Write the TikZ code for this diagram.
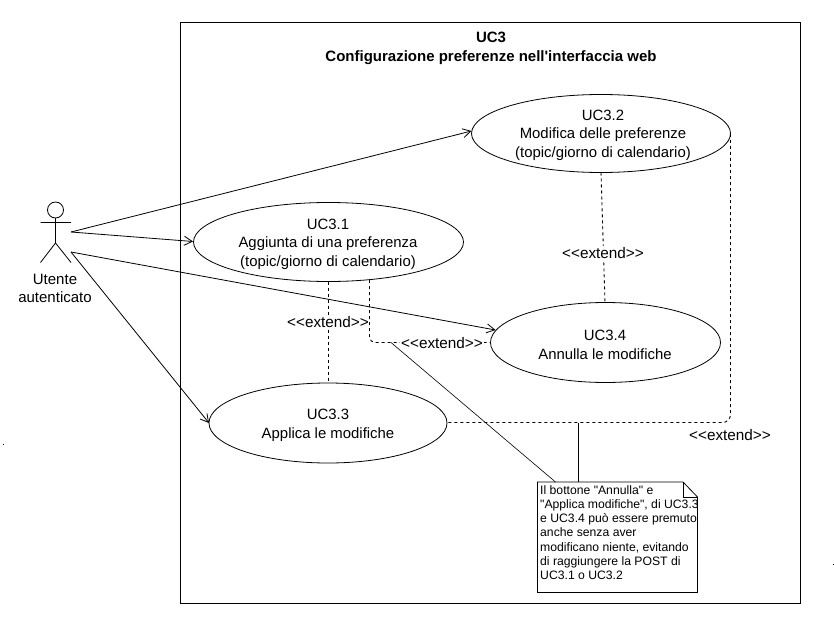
\documentclass[tikz,border=0pt]{standalone}
\usepackage{fontspec}
\setmainfont[Ligatures=TeXOff]{Liberation Sans}
\usetikzlibrary{arrows.meta}
\tikzset{
  uctext/.style={align=center,font=\fontsize{14.9}{18.8}\selectfont,inner sep=0pt},
  lbl/.style={font=\fontsize{15.3}{16}\selectfont,inner sep=1pt,fill=white},
  assoc/.style={draw=black,line width=0.8pt,-{Straight Barb[length=8pt,width=9pt,line width=0.8pt]}},
  ext/.style={draw=black,line width=0.9pt,dash pattern=on 3pt off 3pt},
  plain/.style={draw=black,line width=0.8pt},
}
\begin{document}
\begin{tikzpicture}[x=1pt,y=-1pt]
\useasboundingbox (0,0) rectangle (834,631);
\fill[white] (0,0) rectangle (834,631);
\node[draw=black,line width=0.9pt,minimum width=620pt,minimum height=580pt,inner sep=0pt,anchor=north west] (sys) at (180,22.5) {};
\node[align=center,font=\bfseries\fontsize{15}{19}\selectfont,inner sep=0pt] (title) at (491,48) {UC3\\Configurazione preferenze nell'interfaccia web};
% stray dots
\fill[black] (3,444) rectangle (4.2,445.2);
\fill[black] (833,564) rectangle (834,565.2);
% actor
\node[draw=black,circle,line width=0.8pt,minimum size=16pt,inner sep=0pt] (head) at (55.5,210) {};
\coordinate (neck) at (55.5,218);
\coordinate (hip) at (55.5,243);
\coordinate (armL) at (40.5,222.5);
\coordinate (armR) at (71,222.5);
\coordinate (legL) at (40.5,262.5);
\coordinate (legR) at (71,262.5);
\draw[plain] (neck) -- (hip) (armL) -- (armR) (legL) -- (hip) -- (legR);
\node[align=center,font=\fontsize{15}{18}\selectfont,inner sep=0pt] (actorlbl) at (55,288) {Utente\\autenticato};
\coordinate (a1) at (71,232);
\coordinate (a2) at (71,252);
% use cases
\coordinate (u2) at (601,133.5);
\coordinate (u1) at (328.5,242);
\coordinate (u3) at (328,423);
\coordinate (u4) at (605.5,342.5);
\draw[plain] (u2) ellipse [x radius=129.5,y radius=39];
\draw[plain] (u1) ellipse [x radius=135,y radius=39.5];
\draw[plain] (u3) ellipse [x radius=119,y radius=40];
\draw[plain] (u4) ellipse [x radius=115,y radius=40];
\node[uctext] (t2) at (603,135.2) {UC3.2\\Modifica delle preferenze\\(topic/giorno di calendario)};
\node[uctext] (t1) at (328,244.2) {UC3.1\\Aggiunta di una preferenza\\(topic/giorno di calendario)};
\node[uctext] (t3) at (328,425.5) {UC3.3\\Applica le modifiche};
\node[uctext] (t4) at (605,344.5) {UC3.4\\Annulla le modifiche};
% connection points
\coordinate (e2) at (471.5,131);
\coordinate (e1) at (193,241.5);
\coordinate (e3) at (209,423);
\coordinate (e4) at (495.5,330);
\draw[assoc] (a1) -- (e2);
\draw[assoc] (a1) -- (e1);
\draw[assoc] (a2) -- (e4);
\draw[assoc] (a2) -- (e3);
% extend
\coordinate (p21) at (601,172.5);
\coordinate (p24) at (605,302.5);
\draw[ext] (p21) -- (p24);
\node[lbl] (x1) at (603,253) {<<extend>>};
\coordinate (p13) at (328.5,281.5);
\coordinate (p31) at (328.5,383);
\draw[ext] (p13) -- (p31);
\node[lbl] (x2) at (328,322) {<<extend>>};
\coordinate (p1) at (369.5,280);
\coordinate (p4) at (490.5,342.5);
\draw[ext,rounded corners=6pt] (p1) -- (369.5,342.5) -- (p4);
\node[lbl] (x3) at (442,343) {<<extend>>};
\coordinate (r2) at (730.5,134);
\coordinate (r3) at (447.5,422.5);
\draw[ext,rounded corners=8pt] (r2) -- (730.5,422.5) -- (r3);
\node[font=\fontsize{15.3}{16}\selectfont,inner sep=0pt] (x4) at (730,435) {<<extend>>};
% note
\coordinate (nA) at (537.5,482);
\coordinate (nB) at (683,482);
\coordinate (nC) at (697.5,497);
\coordinate (nD) at (697.5,592.5);
\coordinate (nE) at (537.5,592.5);
\coordinate (nF) at (683,497);
\draw[plain] (nA) -- (nB) -- (nC) -- (nD) -- (nE) -- cycle;
\draw[plain] (nB) -- (nF) -- (nC);
\node[anchor=north west,align=left,font=\fontsize{12.2}{14.3}\selectfont,inner sep=0pt] (notetxt) at (540,485) {Il bottone "Annulla" e\\"Applica modifiche", di UC3.3\\e UC3.4 può essere premuto\\anche senza aver\\modificano niente, evitando\\di raggiungere la POST di\\UC3.1 o UC3.2};
\coordinate (nl1) at (578.5,482);
\coordinate (nl2) at (555.5,482);
\draw[plain] (nl1) -- (578.5,422.5);
\draw[plain,line width=0.6pt] (nl2) -- (391,342.5);
\end{tikzpicture}
\end{document}
